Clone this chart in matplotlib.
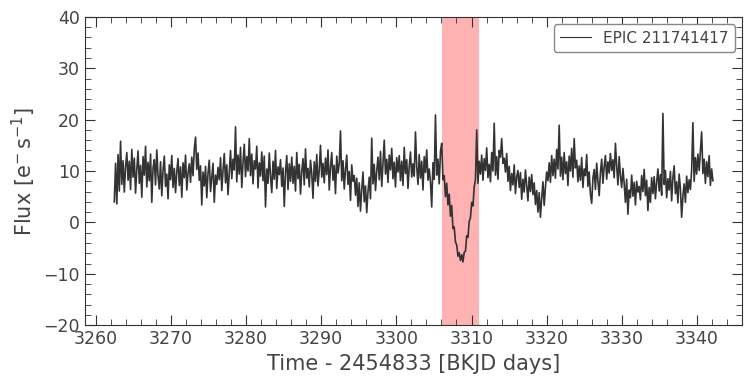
import numpy as np
import matplotlib
matplotlib.use('Agg')
import matplotlib.pyplot as plt

# Light curve of EPIC 211741417 (K2)
T_START = 3262.5
T_END = 3342.1
TARGET = 'EPIC 211741417'
TRANSIT_WINDOW = (3306.1, 3311.0)

flux = [
    4.0, 11.5, 3.6, 13.2, 6.1, 15.8, 7.4, 12.0, 5.9, 10.8, 13.6, 8.2,
    11.9, 6.4, 14.2, 8.8, 12.5, 5.7, 10.3, 13.9, 7.6, 11.1, 4.9, 12.8,
    9.2, 14.8, 6.9, 11.7, 8.1, 13.3, 3.9, 10.6, 12.2, 7.3, 14.1, 9.0,
    6.5, 11.8, 5.2, 10.1, 12.9, 7.0, 9.4, 4.6, 11.2, 8.3, 13.0, 6.8,
    10.5, 5.8, 9.9, 12.4, 7.2, 10.8, 4.9, 11.6, 8.7, 13.1, 6.3, 9.6,
    11.4, 7.8, 12.7, 9.1, 14.2, 16.6, 10.3, 13.5, 8.2, 11.0, 3.4, 9.8,
    7.1, 10.9, 4.8, 9.6, 12.1, 6.0, 8.8, 11.5, 3.9, 9.2, 7.4, 10.7,
    8.3, 12.6, 6.2, 10.1, 13.4, 7.7, 11.2, 5.4, 9.7, 14.0, 8.5, 12.3,
    10.2, 18.6, 7.9, 13.1, 9.4, 14.6, 6.8, 11.7, 15.2, 8.9, 12.8, 10.0,
    16.3, 9.1, 13.3, 7.5, 12.0, 10.4, 14.8, 6.7, 11.6, 9.0, 13.7, 8.1,
    12.9, 3.0, 10.4, 7.6, 13.5, 9.0, 5.8, 11.9, 8.4, 14.0, 6.6, 10.8,
    9.3, 12.2, 7.0, 10.6, 3.1, 9.8, 13.0, 6.4, 11.4, 8.0, 12.7, 7.6,
    10.9, 6.1, 13.6, 8.5, 11.3, 5.5, 9.9, 12.4, 7.3, 14.3, 8.6, 10.5,
    6.9, 12.1, 9.5, 4.7, 11.8, 8.0, 13.2, 7.1, 10.2, 15.0, 8.8, 11.5,
    7.7, 12.5, 9.3, 14.1, 6.3, 10.8, 13.6, 8.2, 11.1, 5.6, 12.9, 9.6,
    11.4, 17.8, 8.1, 12.0, 6.5, 10.3, 13.1, 7.4, 9.9, 4.3, 11.2, 8.0,
    9.1, 5.3, 8.6, 3.1, 7.7, 2.2, 6.4, 9.8, 4.0, 7.1, 1.9, 6.0,
    8.8, 4.6, 16.4, 7.5, 11.3, 6.2, 10.0, 12.7, 8.3, 13.8, 7.0, 11.6,
    16.0, 9.4, 12.3, 7.8, 13.1, 10.2, 14.4, 8.5, 11.7, 6.9, 12.6, 9.8,
    13.0, 8.1, 11.9, 7.2, 14.6, 9.5, 12.2, 6.6, 10.9, 13.7, 8.8, 11.4,
    9.0, 17.6, 10.8, 7.4, 13.2, 8.6, 11.9, 6.3, 12.8, 9.7, 14.1, 8.2,
    10.4, 7.9, 3.0, 11.6, 8.4, 20.9, 9.2, 12.3, 7.5, 13.8, 15.4, 8.3,
    9.1, 5.0, 7.6, 3.4, 5.5, 1.2, 3.3, -1.2, -0.9, -3.8, -4.4, -6.6,
    -5.9, -7.4, -6.3, -7.7, -5.8, -5.6, -2.6, -2.9, 0.2, 0.9, 3.9, 3.2,
    6.9, 8.3, 18.0, 7.6, 11.9, 9.4, 13.1, 8.2, 12.4, 10.1, 14.5, 8.7,
    11.3, 7.9, 13.6, 10.0, 19.3, 9.2, 12.8, 8.4, 14.0, 12.7, 16.3, 11.5,
    12.5, 9.8, 13.4, 8.0, 10.9, 6.2, 9.5, 7.3, 11.2, 5.6, 8.9, 10.1,
    6.8, 9.7, 4.5, 8.4, 5.9, 10.2, 7.1, 4.2, 8.8, 6.0, 9.3, 5.4,
    7.7, 3.5, 6.2, 2.0, 5.8, 1.0, 4.7, 7.9, 3.3, 6.9, 9.8, 8.1,
    11.6, 7.8, 13.0, 9.1, 12.3, 8.6, 14.2, 10.4, 18.9, 9.0, 12.7, 8.3,
    13.6, 9.5, 11.8, 7.2, 12.9, 10.0, 14.4, 8.8, 16.3, 10.6, 12.1, 7.9,
    11.0, 8.2, 12.6, 6.8, 10.4, 9.1, 13.2, 7.0, 9.8, 5.5, 3.7, 8.6,
    10.3, 6.4, 11.5, 8.1, 5.2, 9.7, 12.3, 7.6, 10.9, 13.0, 8.4, 11.8,
    9.6, 13.4, 10.1, 12.2, 8.7, 15.4, 11.0, 7.3, 12.8, 9.0, 6.8, 10.5,
    7.6, 3.9, 8.4, 1.6, 6.3, 4.8, 9.2, 5.1, 7.8, 3.4, 8.0, 5.9,
    7.0, 4.4, 9.1, 6.0, 10.3, 5.2, 8.2, 2.3, 6.8, 3.9, 8.7, 5.6,
    8.9, 4.6, 7.8, 10.4, 6.1, 9.3, 5.3, 21.2, 7.4, 10.1, 4.8, 8.5,
    6.3, 9.9, 4.2, 8.7, 11.0, 5.6, 7.9, 3.8, 9.4, 6.6, 1.0, 5.1,
    7.5, 3.9, 9.0, 5.8, 8.3, 6.4, 10.2, 19.4, 8.0, 12.6, 9.4, 13.3,
    10.1, 14.0, 17.6, 9.5, 12.3, 7.6, 11.8, 8.9, 13.0, 7.2, 10.4, 8.1,
]
time = np.linspace(T_START, T_END, len(flux))

# lightkurve-like look
plt.rcParams.update({
    'font.family': 'DejaVu Sans',
    'text.color': '#444444',
    'axes.labelcolor': '#444444',
    'axes.edgecolor': '#333333',
    'xtick.color': '#333333',
    'ytick.color': '#333333',
    'xtick.labelcolor': '#444444',
    'ytick.labelcolor': '#444444',
    'xtick.direction': 'in',
    'ytick.direction': 'in',
    'xtick.top': True,
    'ytick.right': True,
    'xtick.minor.visible': True,
    'ytick.minor.visible': True,
    'xtick.major.size': 7,
    'ytick.major.size': 7,
    'xtick.minor.size': 4,
    'ytick.minor.size': 4,
})

fig = plt.figure(figsize=(7.52, 3.83), dpi=100)
ax = fig.add_axes([0.113, 0.151, 0.874, 0.805])

ax.plot(time, flux, color='#333333', lw=1.2, label=TARGET)
ax.axvspan(*TRANSIT_WINDOW, color='red', alpha=0.3, lw=0)

ax.set_xlim(3258.6, 3346.0)
ax.set_ylim(-20, 40)
ax.set_xticks(np.arange(3260, 3341, 10))
ax.set_yticks(np.arange(-20, 41, 10))
ax.xaxis.set_minor_locator(matplotlib.ticker.MultipleLocator(2))
ax.yaxis.set_minor_locator(matplotlib.ticker.MultipleLocator(2))
ax.tick_params(labelsize=12.5)

ax.set_xlabel('Time - 2454833 [BKJD days]', fontsize=15)
ax.set_ylabel(r'Flux [$\mathrm{e^{-}\,s^{-1}}$]', fontsize=15)
leg = ax.legend(loc='upper right', fontsize=11, edgecolor='#888888', framealpha=1)
leg.get_lines()[0].set_linewidth(0.8)

fig.savefig('out.png', dpi=100)
